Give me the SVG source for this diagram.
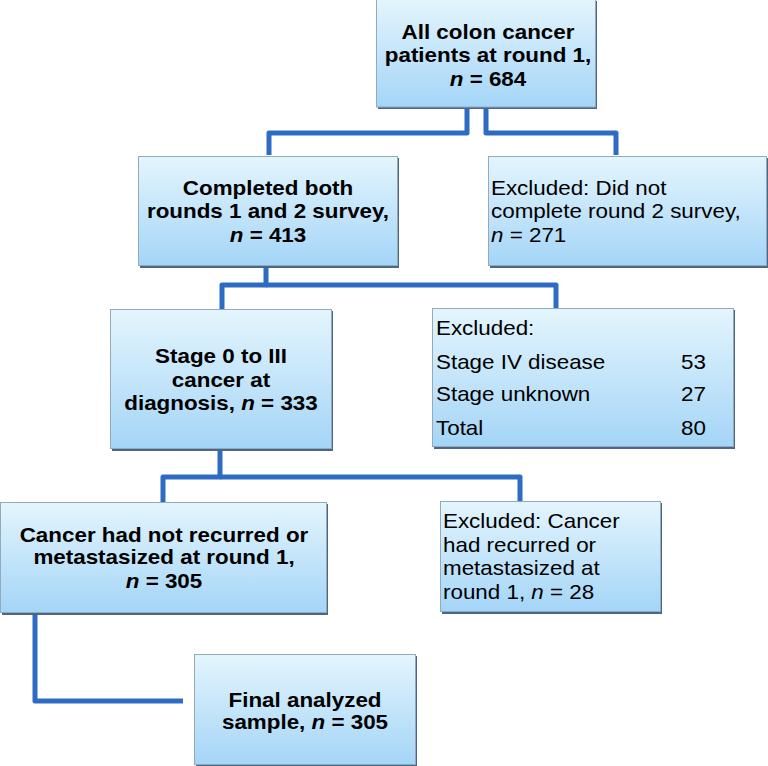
<svg xmlns="http://www.w3.org/2000/svg" width="768" height="766" viewBox="0 0 768 766">
<defs>
<linearGradient id="g" x1="0" y1="0" x2="0" y2="1">
<stop offset="0" stop-color="#E4F5FD"/>
<stop offset="1" stop-color="#A4D5F7"/>
</linearGradient>
<style>
.sh{fill:#4C6785;}
.bx{fill:url(#g);stroke:#93AABD;stroke-width:1;}
.b{font-family:"Liberation Sans",Arial,sans-serif;font-weight:bold;font-size:20px;fill:#000;text-anchor:middle;}
.r{font-family:"Liberation Sans",Arial,sans-serif;font-size:20px;fill:#000;}
.i{font-style:italic;}
.c{fill:none;stroke:#2E6CC3;stroke-width:5;stroke-linejoin:round;}
</style>
</defs>
<g id="connectors">
<path class="c" d="M467 108 V133 H269 V155"/>
<path class="c" d="M486 108 V133 H616 V155"/>
<path class="c" d="M266 267 V285 H222 V310"/>
<path class="c" d="M266 285 H556 V309"/>
<path class="c" d="M220 450 V477 H163 V503"/>
<path class="c" d="M220 477 H520 V502"/>
<path class="c" d="M35 613 V701 H183"/>
</g>
<g id="n1">
<rect class="sh" x="378" y="1" width="219" height="108"/>
<rect class="bx" x="376.5" y="-1" width="219" height="108"/>
<text class="b" transform="translate(488 39) scale(1.12 1)">All colon cancer</text>
<text class="b" transform="translate(488 62) scale(1.12 1)">patients at round 1,</text>
<text class="b" transform="translate(488 86) scale(1.12 1)"><tspan class="i">n</tspan> = 684</text>
</g>
<g id="n2">
<rect class="sh" x="140" y="158" width="259" height="110"/>
<rect class="bx" x="138.5" y="156.5" width="259" height="109"/>
<text class="b" transform="translate(268 195) scale(1.12 1)">Completed both</text>
<text class="b" transform="translate(268 218) scale(1.12 1)">rounds 1 and 2 survey,</text>
<text class="b" transform="translate(268 242) scale(1.12 1)"><tspan class="i">n</tspan> = 413</text>
</g>
<g id="n3">
<rect class="sh" x="490" y="158" width="278" height="110"/>
<rect class="bx" x="488.5" y="156.5" width="278" height="109"/>
<text class="r" transform="translate(491 195) scale(1.12 1)">Excluded: Did not</text>
<text class="r" transform="translate(491 218) scale(1.12 1)">complete round 2 survey,</text>
<text class="r" transform="translate(491 242) scale(1.12 1)"><tspan class="i">n</tspan> = 271</text>
</g>
<g id="n4">
<rect class="sh" x="112" y="311" width="221" height="140"/>
<rect class="bx" x="110.5" y="309.5" width="221" height="139"/>
<text class="b" transform="translate(221 363) scale(1.12 1)">Stage 0 to III</text>
<text class="b" transform="translate(221 387) scale(1.12 1)">cancer at</text>
<text class="b" transform="translate(221 410) scale(1.12 1)">diagnosis, <tspan class="i">n</tspan> = 333</text>
</g>
<g id="n5">
<rect class="sh" x="434" y="310" width="301" height="139"/>
<rect class="bx" x="432.5" y="308.5" width="301" height="138"/>
<text class="r" transform="translate(436 335) scale(1.12 1)">Excluded:</text>
<text class="r" transform="translate(436 369) scale(1.12 1)">Stage IV disease</text>
<text class="r" transform="translate(436 401) scale(1.12 1)">Stage unknown</text>
<text class="r" transform="translate(436 435) scale(1.12 1)">Total</text>
<text class="r" transform="translate(681 369) scale(1.12 1)">53</text>
<text class="r" transform="translate(681 401) scale(1.12 1)">27</text>
<text class="r" transform="translate(681 435) scale(1.12 1)">80</text>
</g>
<g id="n6">
<rect class="sh" x="2" y="504" width="326" height="111"/>
<rect class="bx" x="0.5" y="502.5" width="326" height="110"/>
<text class="b" transform="translate(164 542) scale(1.12 1)">Cancer had not recurred or</text>
<text class="b" transform="translate(164 564) scale(1.12 1)">metastasized at round 1,</text>
<text class="b" transform="translate(164 588) scale(1.12 1)"><tspan class="i">n</tspan> = 305</text>
</g>
<g id="n7">
<rect class="sh" x="442" y="503" width="220" height="111"/>
<rect class="bx" x="440.5" y="501.5" width="220" height="110"/>
<text class="r" transform="translate(443 528) scale(1.12 1)">Excluded: Cancer</text>
<text class="r" transform="translate(443 552) scale(1.12 1)">had recurred or</text>
<text class="r" transform="translate(443 575) scale(1.12 1)">metastasized at</text>
<text class="r" transform="translate(443 599) scale(1.12 1)">round 1, <tspan class="i">n</tspan> = 28</text>
</g>
<g id="n8">
<rect class="sh" x="196" y="656" width="221" height="112"/>
<rect class="bx" x="194.5" y="654.5" width="221" height="110"/>
<text class="b" transform="translate(305 707) scale(1.12 1)">Final analyzed</text>
<text class="b" transform="translate(305 729) scale(1.12 1)">sample, <tspan class="i">n</tspan> = 305</text>
</g>
</svg>
